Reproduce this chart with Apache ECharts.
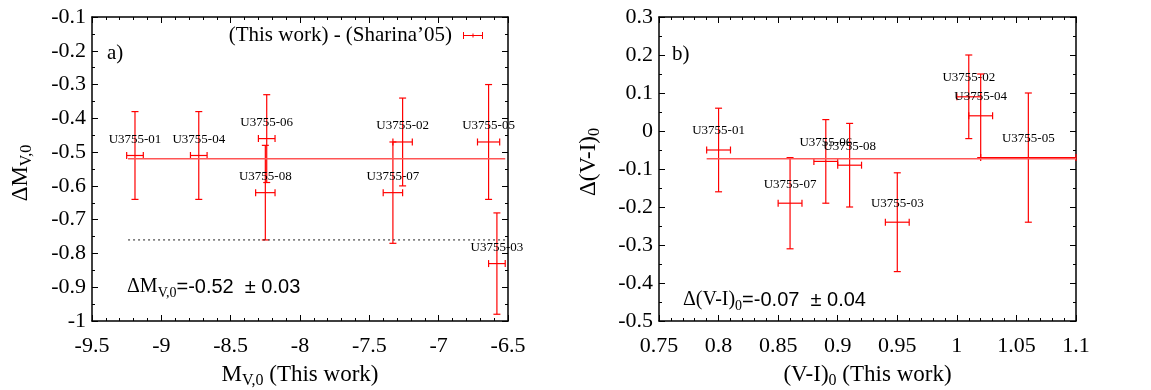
<!DOCTYPE html>
<html>
<head>
<meta charset="utf-8">
<script src="https://cdn.jsdelivr.net/npm/echarts@6/dist/echarts.min.js"></script>
<style>
  html, body { margin: 0; padding: 0; background: #fff; }
  #chart { width: 1151px; height: 390px; }
</style>
</head>
<body>
<div id="chart"></div>
<script>
// panel a) : M_V,0 (this work) vs difference with Sharina'05
const namesA = ['U3755-01', 'U3755-04', 'U3755-06', 'U3755-08', 'U3755-07', 'U3755-02', 'U3755-05', 'U3755-03'];
const mvA = [-9.19, -8.73, -8.24, -8.25, -7.33, -7.26, -6.64, -6.58];
const mvErrA = [0.06, 0.06, 0.06, 0.07, 0.07, 0.07, 0.08, 0.06];
const dmvA = [-0.51, -0.51, -0.46, -0.62, -0.62, -0.47, -0.47, -0.83];
const dmvErrA = [0.13, 0.13, 0.13, 0.14, 0.15, 0.13, 0.17, 0.15];
const fitA = -0.52;
const fitRangeA = [-9.24, -6.52];
const refA = -0.76;
const refRangeA = [-9.24, -6.51];

// panel b) : (V-I)_0 (this work) vs difference
const namesB = ['U3755-01', 'U3755-07', 'U3755-06', 'U3755-08', 'U3755-03', 'U3755-02', 'U3755-04', 'U3755-05'];
const viB = [0.80, 0.86, 0.89, 0.91, 0.95, 1.01, 1.02, 1.06];
const viErrB = [0.01, 0.01, 0.01, 0.01, 0.01, 0.01, 0.01, 0.04];
const dviB = [-0.05, -0.19, -0.08, -0.09, -0.24, 0.09, 0.04, -0.07];
const dviErrB = [0.11, 0.12, 0.11, 0.11, 0.13, 0.11, 0.11, 0.17];
const fitB = -0.073;
const fitRangeB = [0.79, 1.1];

const legendName = "(This work) - (Sharina\u201905)";
const SERIF = '"Liberation Serif", "DejaVu Serif", serif';
const SANS = '"Liberation Sans", Arial, sans-serif';
const RED = '#ff0000';

function errorBars(names, labelOffset) {
  return function (params, api) {
    const x = api.value(0), y = api.value(1), ex = api.value(2), ey = api.value(3);
    const c = api.coord([x, y]);
    const l = api.coord([x - ex, y]), r = api.coord([x + ex, y]);
    const t = api.coord([x, y + ey]), b = api.coord([x, y - ey]);
    const cap = 3.5;
    const st = { stroke: RED, lineWidth: 1.2 };
    const seg = (x1, y1, x2, y2) => ({ type: 'line', shape: { x1, y1, x2, y2 }, style: st });
    return {
      type: 'group',
      children: [
        seg(l[0], l[1], r[0], r[1]),
        seg(t[0], t[1], b[0], b[1]),
        seg(l[0], l[1] - cap, l[0], l[1] + cap),
        seg(r[0], r[1] - cap, r[0], r[1] + cap),
        seg(t[0] - cap, t[1], t[0] + cap, t[1]),
        seg(b[0] - cap, b[1], b[0] + cap, b[1]),
        {
          type: 'text', x: c[0], y: c[1] - labelOffset,
          style: { text: names[params.dataIndex], fill: '#000', fontSize: 13, fontFamily: SERIF, align: 'center', verticalAlign: 'middle' }
        }
      ]
    };
  };
}

function rows(xs, ys, exs, eys) {
  return xs.map((x, i) => [x, ys[i], exs[i], eys[i]]);
}

// annotation text (sub-scripts done with a padded smaller token)
const noteRich = {
  a: { fontSize: 20, fontFamily: SERIF, color: '#000' },
  s: { fontSize: 14, fontFamily: SERIF, color: '#000', padding: [12, 0, 0, 0] },
  n: { fontSize: 20, fontFamily: SANS, color: '#000' }
};
const nameRich = {
  a: { fontSize: 23, fontFamily: SERIF, color: '#000' },
  s: { fontSize: 16, fontFamily: SERIF, color: '#000', padding: [13, 0, 0, 0] }
};

function xAxisDef(grid, min, max, interval, name, showLabel) {
  return {
    type: 'value', gridIndex: grid, position: showLabel ? 'bottom' : 'top',
    min, max, interval,
    name: showLabel ? name : '', nameLocation: 'middle', nameGap: 39,
    nameTextStyle: { rich: nameRich },
    axisLine: { show: true, onZero: false, lineStyle: { color: '#000', width: 1.5 } },
    axisTick: { show: true, inside: true, length: 6, lineStyle: { color: '#000' } },
    minorTick: { show: true, splitNumber: 5, length: 3, lineStyle: { color: '#000' } },
    splitLine: { show: false },
    axisLabel: { show: showLabel, color: '#000', fontSize: 22, fontFamily: SERIF, margin: 14 }
  };
}

function yAxisDef(grid, min, max, interval, name, showLabel, gap, pad) {
  return {
    type: 'value', gridIndex: grid, position: showLabel ? 'left' : 'right',
    min, max, interval,
    name: showLabel ? name : '', nameLocation: 'middle', nameGap: gap, nameRotate: 90,
    nameTextStyle: { rich: nameRich, padding: pad || 0 },
    axisLine: { show: true, onZero: false, lineStyle: { color: '#000', width: 1.5 } },
    axisTick: { show: true, inside: true, length: 6, lineStyle: { color: '#000' } },
    minorTick: { show: true, splitNumber: 2, length: 3, lineStyle: { color: '#000' } },
    splitLine: { show: false },
    axisLabel: { show: showLabel, color: '#000', fontSize: 22, fontFamily: SERIF, margin: 6 }
  };
}

const chart = echarts.init(document.getElementById('chart'));
chart.setOption({
  animation: false,
  backgroundColor: '#fff',
  grid: [
    { left: 92, top: 17, width: 416, height: 304, outerBoundsMode: 'none' },
    { left: 659, top: 17, width: 417, height: 304, outerBoundsMode: 'none' }
  ],
  xAxis: [
    xAxisDef(0, -9.5, -6.5, 0.5, '{a|M}{s|V,0}{a| (This work)}', true),
    xAxisDef(0, -9.5, -6.5, 0.5, '', false),
    xAxisDef(1, 0.75, 1.1, 0.05, '{a|(V-I)}{s|0}{a| (This work)}', true),
    xAxisDef(1, 0.75, 1.1, 0.05, '', false)
  ],
  yAxis: [
    yAxisDef(0, -1, -0.1, 0.1, '{a|\u0394M}{s|V,0}', true, 57, [0, 8, 0, 0]),
    yAxisDef(0, -1, -0.1, 0.1, '', false, 0),
    yAxisDef(1, -0.5, 0.3, 0.1, '{a|\u0394(V-I)}{s|0}', true, 56, [0, 0, 0, 14]),
    yAxisDef(1, -0.5, 0.3, 0.1, '', false, 0)
  ],
  legend: {
    data: [legendName],
    right: 668, top: 25, align: 'right',
    itemWidth: 20, itemHeight: 7, padding: 0,
    icon: 'path://M0,0h1v7h-1zM19,0h1v7h-1zM0,3h20v1h-20zM9.5,1.5h1v4h-1z',
    textStyle: { color: '#000', fontSize: 21, fontFamily: SERIF, padding: [0, 6, 0, 0] }
  },
  graphic: [
    { type: 'text', left: 107, top: 43, style: { text: 'a)', fontSize: 21, fontFamily: SERIF, fill: '#000' } },
    { type: 'text', left: 672, top: 44, style: { text: 'b)', fontSize: 21, fontFamily: SERIF, fill: '#000' } },
    {
      type: 'text', left: 127, top: 277,
      style: { text: '{a|\u0394M}{s|V,0}{n|=-0.52  \u00b1 0.03}', rich: noteRich }
    },
    {
      type: 'text', left: 683, top: 290,
      style: { text: '{a|\u0394(V-I)}{s|0}{n|=-0.07  \u00b1 0.04}', rich: noteRich }
    }
  ],
  series: [
    {
      name: 'fitA', type: 'line', xAxisIndex: 0, yAxisIndex: 0, symbol: 'none', silent: true,
      data: [[fitRangeA[0], fitA], [fitRangeA[1], fitA]],
      lineStyle: { color: '#ff5555', width: 1.5 }
    },
    {
      name: 'refA', type: 'line', xAxisIndex: 0, yAxisIndex: 0, symbol: 'none', silent: true,
      data: [[refRangeA[0], refA], [refRangeA[1], refA]],
      lineStyle: { color: '#222', width: 1, type: [2, 3] }
    },
    {
      name: legendName, type: 'custom', xAxisIndex: 0, yAxisIndex: 0,
      itemStyle: { color: RED },
      renderItem: errorBars(namesA, 16),
      data: rows(mvA, dmvA, mvErrA, dmvErrA)
    },
    {
      name: 'fitB', type: 'line', xAxisIndex: 2, yAxisIndex: 2, symbol: 'none', silent: true,
      data: [[fitRangeB[0], fitB], [fitRangeB[1], fitB]],
      lineStyle: { color: '#ff5555', width: 1.5 }
    },
    {
      name: 'panelB', type: 'custom', xAxisIndex: 2, yAxisIndex: 2,
      itemStyle: { color: RED },
      renderItem: errorBars(namesB, 19),
      data: rows(viB, dviB, viErrB, dviErrB)
    }
  ]
});
window.addEventListener('resize', () => chart.resize());
</script>
</body>
</html>
